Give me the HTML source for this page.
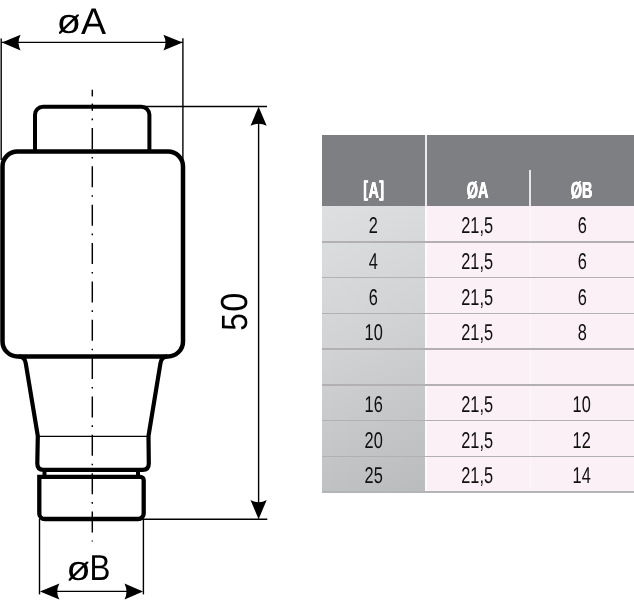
<!DOCTYPE html>
<html><head><meta charset="utf-8">
<style>
html,body{margin:0;padding:0;background:#fff;}
body{text-rendering:geometricPrecision;width:634px;height:600px;overflow:hidden;position:relative;font-family:"Liberation Sans",sans-serif;}
#dr{position:absolute;left:0;top:0;}
.tb{position:absolute;}
.cell{position:absolute;height:36px;line-height:36px;text-align:center;color:#101010;font-size:22.8px;}
.cell span{display:inline-block;transform:scaleX(0.717);transform-origin:50% 50%;}
.hd{position:absolute;color:#fff;font-weight:bold;font-size:23.4px;text-align:center;height:24px;line-height:24px;}
.hd span{text-shadow:0.4px 0 0 #fff,-0.4px 0 0 #fff;display:inline-block;transform:scaleX(0.617);transform-origin:50% 50%;}
.hd span i{font-style:normal;display:inline-block;transform:translateY(-0.8px) scaleY(0.91);margin:0 0.7px;transform-origin:50% 50%;}
</style></head><body>
<div id="wrap" style="position:absolute;left:0;top:0;width:634px;height:600px;will-change:transform;">
<!-- table -->
<div class="tb" style="left:321.8px;top:134.8px;width:312.2px;height:71.7px;background:#7e7f83;"></div>
<div class="tb" style="left:322px;top:206.2px;width:102.6px;height:286px;background:linear-gradient(155deg,#dedfe0 0%,#d0d2d3 45%,#b9bbbd 100%);"></div>
<div class="tb" style="left:424.6px;top:206.2px;width:2.6px;height:286px;background:#fdfbfd;"></div>
<div class="tb" style="left:427.2px;top:206.2px;width:206.8px;height:286px;background:#fbf0f6;"></div>
<div class="tb" style="left:424.6px;top:134.7px;width:2.4px;height:71.5px;background:#ececef;"></div>
<div class="tb" style="left:529.2px;top:170px;width:2px;height:36.2px;background:#e6e6e9;"></div>
<div class="tb" style="left:529.6px;top:206.2px;width:1.4px;height:286px;background:#fdf7fa;"></div>
<!-- row separators -->
<div class="tb" style="left:322px;top:241.15px;width:312px;height:1.5px;background:#b3b0b4;"></div>
<div class="tb" style="left:322px;top:276.85px;width:312px;height:1.5px;background:#b3b0b4;"></div>
<div class="tb" style="left:322px;top:312.65px;width:312px;height:1.5px;background:#b3b0b4;"></div>
<div class="tb" style="left:322px;top:348.35px;width:312px;height:1.5px;background:#b3b0b4;"></div>
<div class="tb" style="left:322px;top:384.15px;width:312px;height:1.5px;background:#b3b0b4;"></div>
<div class="tb" style="left:322px;top:419.85px;width:312px;height:1.5px;background:#b3b0b4;"></div>
<div class="tb" style="left:322px;top:455.65px;width:312px;height:1.5px;background:#b3b0b4;"></div>
<div class="tb" style="left:322px;top:491.4px;width:312px;height:1.4px;background:#b4b4b7;"></div>
<!-- header text -->
<div class="hd" style="left:323px;width:101px;top:177.6px;"><span><i>[</i>A<i>]</i></span></div>
<div class="hd" style="left:427px;width:102px;top:177.6px;"><span>ØA</span></div>
<div class="hd" style="left:531px;width:102px;top:177.6px;"><span>ØB</span></div>
<!-- body text -->
<div class="cell" style="left:323px;width:101px;top:207px;"><span>2</span></div>
<div class="cell" style="left:426.5px;width:102px;top:207px;"><span>21,5</span></div>
<div class="cell" style="left:531px;width:102px;top:207px;"><span>6</span></div>
<div class="cell" style="left:323px;width:101px;top:242.8px;"><span>4</span></div>
<div class="cell" style="left:426.5px;width:102px;top:242.8px;"><span>21,5</span></div>
<div class="cell" style="left:531px;width:102px;top:242.8px;"><span>6</span></div>
<div class="cell" style="left:323px;width:101px;top:278.5px;"><span>6</span></div>
<div class="cell" style="left:426.5px;width:102px;top:278.5px;"><span>21,5</span></div>
<div class="cell" style="left:531px;width:102px;top:278.5px;"><span>6</span></div>
<div class="cell" style="left:323px;width:101px;top:314.3px;"><span>10</span></div>
<div class="cell" style="left:426.5px;width:102px;top:314.3px;"><span>21,5</span></div>
<div class="cell" style="left:531px;width:102px;top:314.3px;"><span>8</span></div>
<div class="cell" style="left:323px;width:101px;top:385.8px;"><span>16</span></div>
<div class="cell" style="left:426.5px;width:102px;top:385.8px;"><span>21,5</span></div>
<div class="cell" style="left:531px;width:102px;top:385.8px;"><span>10</span></div>
<div class="cell" style="left:323px;width:101px;top:421.5px;"><span>20</span></div>
<div class="cell" style="left:426.5px;width:102px;top:421.5px;"><span>21,5</span></div>
<div class="cell" style="left:531px;width:102px;top:421.5px;"><span>12</span></div>
<div class="cell" style="left:323px;width:101px;top:457.3px;"><span>25</span></div>
<div class="cell" style="left:426.5px;width:102px;top:457.3px;"><span>21,5</span></div>
<div class="cell" style="left:531px;width:102px;top:457.3px;"><span>14</span></div>

<!-- drawing -->
<svg id="dr" width="320" height="600" viewBox="0 0 320 600">
<defs><clipPath id="c1"><rect x="59" y="13.6" width="19.9" height="21.2"/></clipPath><clipPath id="c2"><rect x="68.7" y="561.2" width="19.8" height="20.6"/></clipPath></defs>
<g fill="none" stroke="#000" stroke-linecap="butt">
  <!-- centre line -->
  <line x1="92.3" y1="89.65" x2="92.3" y2="541.4" stroke-width="1.45" stroke-dasharray="21 7.9 1.6 7.85"/>
  <rect x="90" y="96.4" width="5" height="7.2" fill="#fff" stroke="none"/>
  <!-- thin dimension lines -->
  <g stroke-width="1.4">
    <line x1="1.2" y1="38.5" x2="1.2" y2="160"/>
    <line x1="182.9" y1="38.3" x2="182.9" y2="170"/>
    <line x1="1.5" y1="42.4" x2="183" y2="42.4"/>
    <line x1="141" y1="106.55" x2="267" y2="106.55"/>
    <line x1="258.6" y1="110" x2="258.6" y2="516"/>
    <line x1="139" y1="519.2" x2="267.3" y2="519.2"/>
    <line x1="39.5" y1="519" x2="39.5" y2="594.4"/>
    <line x1="143.4" y1="519" x2="143.4" y2="594.4"/>
    <line x1="42" y1="591.4" x2="141" y2="591.4"/>
    <line x1="38" y1="436.3" x2="148" y2="436.3" stroke-width="1.3"/>
  </g>
  <!-- cap -->
  <path d="M35 152 V114.7 A8 8 0 0 1 43 106.7 H141.4 A8 8 0 0 1 149.4 114.7 V152" stroke-width="4"/>
  <!-- body -->
  <rect x="2.5" y="151.4" width="180.5" height="205" rx="15" ry="15" stroke-width="4.5"/>
  <!-- taper + neck -->
  <path d="M19 356.4 Q24.6 356.8 25.7 363 L37.8 436 L37.3 463.5 Q37.3 469.9 43.6 469.9 H142.5 Q148.8 469.9 148.8 463.5 L148.5 436 L160.5 363 Q161.6 356.8 167.2 356.4" stroke-width="4.2"/>
  <!-- neck connectors -->
  <line x1="44.5" y1="470" x2="44.5" y2="477" stroke-width="4"/>
  <line x1="138" y1="470" x2="138" y2="477" stroke-width="4"/>
  <!-- contact -->
  <path d="M39.3 476.8 H140.2 A3.5 3.5 0 0 1 143.7 480.3 V513.5 A5.5 5.5 0 0 1 138.2 519 H44.8 A5.5 5.5 0 0 1 39.3 513.5 Z" stroke-width="4.3" stroke-linejoin="miter"/>
</g>
<g fill="#000" stroke="none">
  <!-- arrows -->
  <path d="M1.9 42.5 L20.6 34.7 Q16.6 42.5 20.6 50.4 Z"/>
  <path d="M182.6 42.5 L163.4 34.7 Q167.6 42.5 163.4 50.4 Z"/>
  <path d="M258.6 106.8 L250.5 125.8 Q258.6 121.6 266.7 125.8 Z"/>
  <path d="M258.6 519.2 L250.5 500 Q258.6 504.6 266.7 500 Z"/>
  <path d="M40 591.4 L59.4 583.4 Q55.2 591.4 59.4 599.4 Z"/>
  <path d="M143 591.4 L124.5 583.4 Q128.4 591.4 124.5 599.4 Z"/>
  <g font-family="Liberation Sans, sans-serif" font-size="100" text-rendering="geometricPrecision">
  <g clip-path="url(#c1)"><text transform="translate(56.53 33.4) scale(0.4047 0.3394)">ø</text></g>
  <text transform="translate(81.0 33.5) scale(0.3756 0.3706)">A</text>
  <g clip-path="url(#c2)"><text transform="translate(66.25 580.47) scale(0.4015 0.3394)">ø</text></g>
  <text transform="translate(89.42 580.35) scale(0.3135 0.3612)">B</text>
  <text transform="translate(247.13 311.85) rotate(-90) scale(0.3452 0.3771)">0</text>
  <text transform="translate(246.84 330.77) rotate(-90) scale(0.3163 0.364)">5</text>
  </g>
</g>
</svg>
</div>
</body></html>
